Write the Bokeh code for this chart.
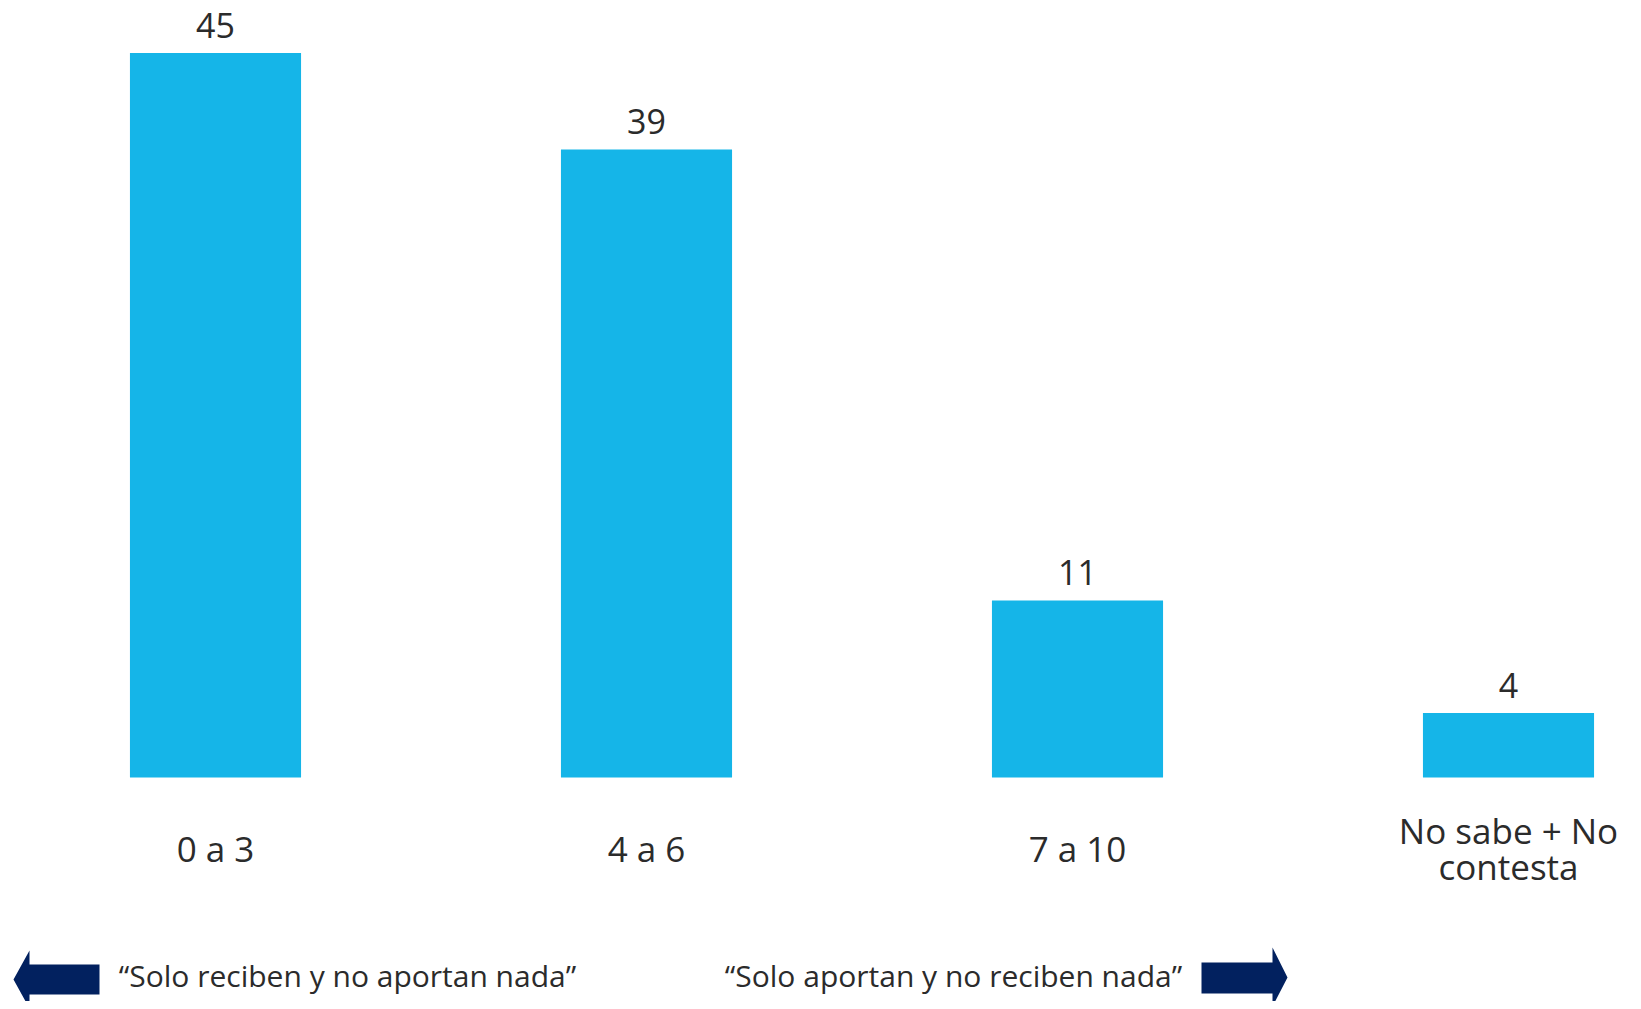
from bokeh.plotting import figure
from bokeh.models import Range1d, ColumnDataSource
from bokeh.core.properties import value
from bokeh.embed import file_html
from bokeh.resources import INLINE

# ---- data ----
categories = ["0 a 3", "4 a 6", "7 a 10", "No sabe + No\ncontesta"]
values = [45, 39, 11, 4]
left_note = "\u201cSolo reciben y no aportan nada\u201d"
right_note = "\u201cSolo aportan y no reciben nada\u201d"

# ---- layout ----
W, H = 1633, 1001
OFF = 0
PXU_X = 431.0
PXU_Y = 16.1
CX0 = 215.0   # page x of first category
BASE = 777.0  # page y of baseline
X0 = (OFF - CX0) / PXU_X
X1 = (OFF + W - CX0) / PXU_X
Y1 = (BASE - OFF) / PXU_Y
Y0 = (BASE - OFF - H) / PXU_Y
FONT = "Open Sans"
TXT = "#2b2b2b"
BAR = "#15B5E8"
NAVY = "#02215F"


def dx(px):
    return X0 + (px - OFF) / W * (X1 - X0)


def dy(py):
    return Y1 - (py - OFF) / H * (Y1 - Y0)


p = figure(width=W, height=H, output_backend="svg", toolbar_location=None,
           x_range=Range1d(X0, X1), y_range=Range1d(Y0, Y1), min_border=0)
p.axis.visible = False
p.grid.visible = False
p.outline_line_color = None
p.background_fill_color = "white"
p.border_fill_color = "white"

xs = list(range(len(categories)))
src = ColumnDataSource(dict(x=xs, top=values, lab=[str(v) for v in values], cat=categories))

p.vbar(x="x", top="top", bottom=0, width=0.397, source=src, fill_color=BAR, line_color=None)

p.text(x="x", y="top", text="lab", source=src, y_offset=-28,
       text_font=value(FONT), text_font_size="34px", text_color=TXT,
       text_align="center", text_baseline="middle")

p.text(x="x", y=dy(848), text="cat", source=src,
       text_font=value(FONT), text_font_size="35px", text_color=TXT,
       text_align="center", text_baseline="middle", text_line_height=0.78)

# bottom notes
p.text(x=[dx(347), dx(953)], y=[dy(975), dy(975)], text=[left_note, right_note],
       text_font=value(FONT), text_font_size="30px", text_color=TXT,
       text_align="center", text_baseline="middle")

# arrows
left_arrow = [(13, 979), (29, 950), (29, 964), (99, 964), (99, 994), (29, 994), (29, 1008)]
right_arrow = [(1287, 977), (1272, 947), (1272, 962), (1201, 962), (1201, 993), (1272, 993), (1272, 1006)]
for arr in (left_arrow, right_arrow):
    p.patch(x=[dx(a) for a, b in arr], y=[dy(b) for a, b in arr],
            fill_color=NAVY, line_color=None)

open("out.html", "w").write(file_html(p, INLINE))
